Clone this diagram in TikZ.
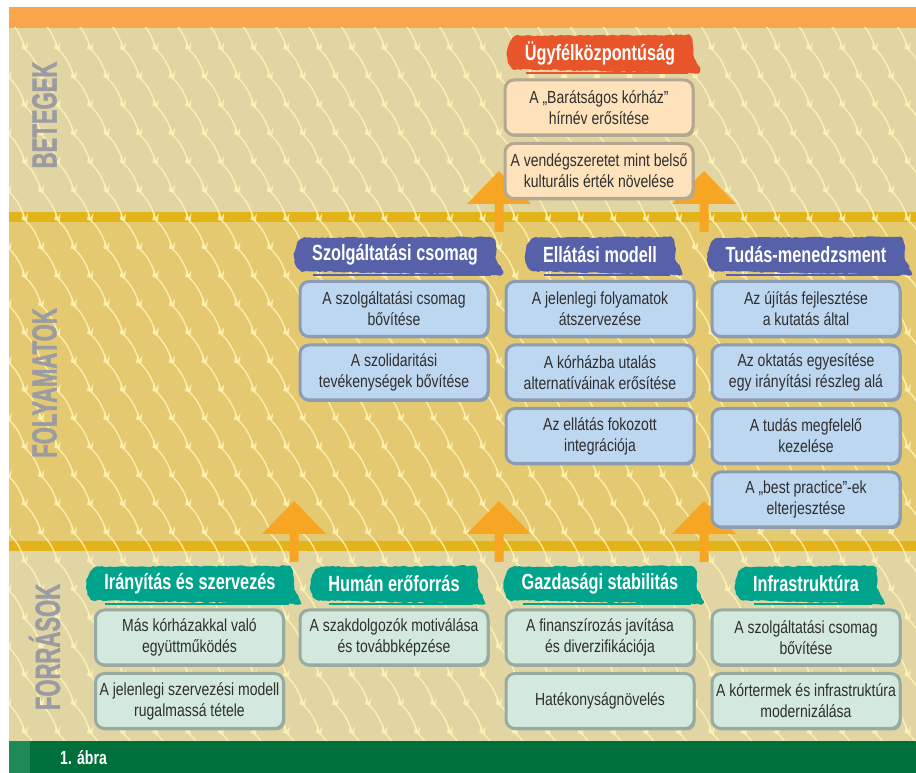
\documentclass[tikz,border=0pt]{standalone}
\usepackage{fontspec}
\setmainfont{Liberation Sans}[FakeStretch=0.8]
\newfontfamily\headfont{Liberation Sans}[FakeStretch=0.74]
\newfontfamily\sidefont{Liberation Sans}[FakeStretch=0.63, FakeBold=1.2]
\usetikzlibrary{positioning,shadows,decorations.pathmorphing}

\definecolor{topbar}{HTML}{F9A54B}
\definecolor{paleband}{HTML}{E1D5A3}
\definecolor{yellowband}{HTML}{E4C970}
\definecolor{sepbar}{HTML}{E3B31A}
\definecolor{motif}{HTML}{FFF4B5}
\definecolor{footgreen}{HTML}{00703A}
\definecolor{footstrip}{HTML}{1F8A55}
\definecolor{sidegray}{HTML}{9A9CA2}
\definecolor{liftorange}{HTML}{F6A623}
\definecolor{brushred}{HTML}{E8552A}
\definecolor{brushblue}{HTML}{5661A9}
\definecolor{brushteal}{HTML}{00A48C}
\definecolor{peachfill}{HTML}{FDE2BB}
\definecolor{peachedge}{HTML}{B5A891}
\definecolor{bluefill}{HTML}{BDD7F1}
\definecolor{blueedge}{HTML}{8C9CB3}
\definecolor{mintfill}{HTML}{D3E9DD}
\definecolor{mintedge}{HTML}{98ABA3}
\definecolor{boxtext}{HTML}{2E2E2E}

\pgfdeclarelayer{bg}
\pgfdeclarelayer{mid}
\pgfsetlayers{bg,mid,main}

\tikzset{
  goalbox/.style={rounded corners=9pt, minimum width=188pt, minimum height=55pt,
    line width=3pt, align=center, text=boxtext, inner sep=2pt,
    font=\fontsize{17.5}{21}\selectfont},
  patientbox/.style={goalbox, fill=peachfill, draw=peachedge,
    drop shadow={shadow xshift=1.5pt, shadow yshift=-2pt, fill=peachedge, opacity=1}},
  processbox/.style={goalbox, fill=bluefill, draw=blueedge,
    drop shadow={shadow xshift=1.5pt, shadow yshift=-2pt, fill=blueedge, opacity=1}},
  sourcebox/.style={goalbox, fill=mintfill, draw=mintedge,
    drop shadow={shadow xshift=1.5pt, shadow yshift=-2pt, fill=mintedge, opacity=1}},
  banner/.style={text=white, inner xsep=15pt, minimum height=34pt,
    font=\headfont\bfseries\fontsize{22}{24}\selectfont},
  sidelabel/.style={rotate=90, text=sidegray, inner sep=0pt,
    font=\sidefont\bfseries\fontsize{35}{35}\selectfont},
  motifline/.style={draw=motif, line width=1.4pt, opacity=0.85},
  liftarrow/.pic={
    \fill[liftorange] (-4.5,0) -- (-4.5,28) -- (-32,28) -- (0,61) -- (32,28)
      -- (4.5,28) -- (4.5,0) -- cycle;
  }
}

% brush stroke behind a header node
\newcommand{\brush}[2]{%
  \begin{pgfonlayer}{mid}
    \fill[#2, decorate, decoration={random steps, segment length=3pt, amplitude=0.7pt}]
      ([xshift=-3pt,yshift=-2pt]#1.west) to[out=90,in=180] ([xshift=10pt]#1.north west)
      -- ([xshift=-4pt,yshift=1pt]#1.north east) to[out=0,in=90] ([xshift=3pt]#1.east)
      to[out=-90,in=10] ([xshift=7pt,yshift=-3pt]#1.south east)
      -- ([xshift=8pt,yshift=1pt]#1.south west) to[out=190,in=-90] cycle;
    \draw[#2, line width=2pt] ([xshift=16pt,yshift=-3pt]#1.south west) -- ([xshift=-2pt,yshift=-3pt]#1.south east);
  \end{pgfonlayer}}

\begin{document}
\begin{tikzpicture}[x=1pt,y=1pt]
  \pgfmathsetseed{11}
  \useasboundingbox (0,0) rectangle (916,773);

  \begin{pgfonlayer}{bg}
    \fill[topbar] (9,745) rectangle (916,766);
    \fill[paleband] (9,561) rectangle (916,745);
    \fill[yellowband] (9,232) rectangle (916,551);
    \fill[paleband] (9,32) rectangle (916,222);
    \fill[sepbar] (9,551) rectangle (916,561);
    \fill[sepbar] (9,222) rectangle (916,232);
    \begin{scope}
      \clip (9,32) rectangle (916,745);
      \foreach \row in {0,...,26}{
        \pgfmathsetmacro{\yy}{752-28.5*\row}
        \pgfmathsetmacro{\dx}{16.35*mod(\row,2)}
        \foreach \col in {-1,...,28}{
          \pgfmathsetmacro{\xx}{9+\dx+32.7*\col}
          \draw[motifline] (\xx,\yy) .. controls (\xx+7,\yy-6) and (\xx+13,\yy-16) .. (\xx+16,\yy-28.5);
          \fill[motif, opacity=0.85] (\xx+12.5,\yy-28) -- (\xx+14.5,\yy-20) -- (\xx+16,\yy-26)
            -- (\xx+19,\yy-21) -- (\xx+18,\yy-29) -- cycle;
        }
      }
    \end{scope}
    \fill[footgreen] (9,0) rectangle (916,32);
    \fill[footstrip] (9,0) rectangle (30,32);
  \end{pgfonlayer}

  \node[sidelabel] (lblpat) at (44.5,658) {BETEGEK};
  \node[sidelabel] (lblproc) at (44.5,390) {FOLYAMATOK};
  \node[sidelabel] (lblres) at (44.5,126) {FORRÁSOK};
  \node[anchor=base west, text=white, inner sep=0pt,
    font=\headfont\bfseries\fontsize{19}{20}\selectfont] (fig) at (60,8) {1. ábra};

  \coordinate (up1) at (499,541);
  \coordinate (up2) at (704,541);
  \coordinate (up3) at (294,211);
  \coordinate (up4) at (499,211);
  \coordinate (up5) at (704,211);
  \begin{pgfonlayer}{mid}
    \foreach \c in {up1,up2,up3,up4,up5}
      \pic at (\c) {liftarrow};
  \end{pgfonlayer}

  % betegek
  \node[banner] (goal) at (600,720) {Ügyfélközpontúság};
  \brush{goal}{brushred}
  \node[patientbox] (goal1) at (599,665.5) {A „Barátságos kórház”\\hírnév erősítése};
  \node[patientbox, below=5.5pt of goal1] (goal2) {A vendégszeretet mint belső\\kulturális érték növelése};

  % folyamatok
  \node[banner] (svc) at (395,518) {Szolgáltatási csomag};
  \brush{svc}{brushblue}
  \node[processbox] (svc1) at (394,464) {A szolgáltatási csomag\\bővítése};
  \node[processbox, below=5.5pt of svc1] (svc2) {A szolidaritási\\tevékenységek bővítése};

  \node[banner] (care) at (600,518) {Ellátási modell};
  \brush{care}{brushblue}
  \node[processbox] (care1) at (600,464) {A jelenlegi folyamatok\\átszervezése};
  \node[processbox, below=5.5pt of care1] (care2) {A kórházba utalás\\alternatíváinak erősítése};
  \node[processbox, below=5.5pt of care2] (care3) {Az ellátás fokozott\\integrációja};

  \node[banner] (know) at (806,518) {Tudás-menedzsment};
  \brush{know}{brushblue}
  \node[processbox] (know1) at (806,464) {Az újítás fejlesztése\\a kutatás által};
  \node[processbox, below=5.5pt of know1] (know2) {Az oktatás egyesítése\\egy irányítási részleg alá};
  \node[processbox, below=5.5pt of know2] (know3) {A tudás megfelelő\\kezelése};
  \node[processbox, below=5.5pt of know3] (know4) {A „best practice”-ek\\elterjesztése};

  % források
  \node[banner] (mgmt) at (190,189) {Irányítás és szervezés};
  \brush{mgmt}{brushteal}
  \node[sourcebox] (mgmt1) at (189.5,135.5) {Más kórházakkal való\\együttműködés};
  \node[sourcebox, below=5.5pt of mgmt1] (mgmt2) {A jelenlegi szervezési modell\\rugalmassá tétele};

  \node[banner] (hr) at (394,189) {Humán erőforrás};
  \brush{hr}{brushteal}
  \node[sourcebox] (hr1) at (394,135.5) {A szakdolgozók motiválása\\és továbbképzése};

  \node[banner] (econ) at (600,189) {Gazdasági stabilitás};
  \brush{econ}{brushteal}
  \node[sourcebox] (econ1) at (600,135.5) {A finanszírozás javítása\\és diverzifikációja};
  \node[sourcebox, below=5.5pt of econ1] (econ2) {Hatékonyságnövelés};

  \node[banner] (infra) at (806,189) {Infrastruktúra};
  \brush{infra}{brushteal}
  \node[sourcebox] (infra1) at (806,135.5) {A szolgáltatási csomag\\bővítése};
  \node[sourcebox, below=5.5pt of infra1] (infra2) {A kórtermek és infrastruktúra\\modernizálása};
\end{tikzpicture}
\end{document}
